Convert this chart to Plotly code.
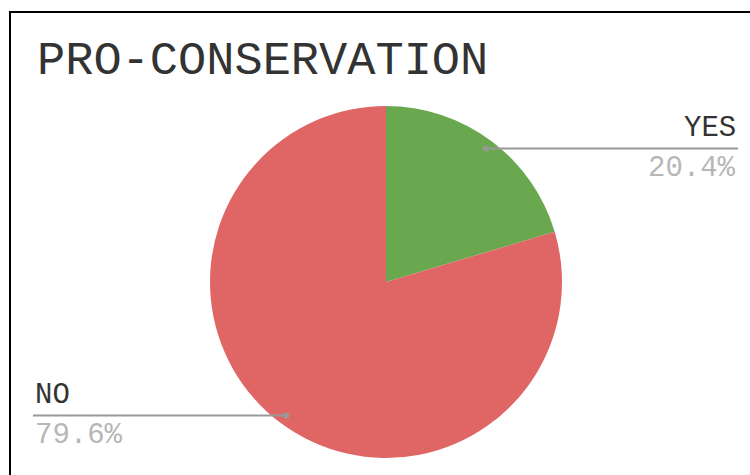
import numpy as np
import plotly.graph_objects as go

# Survey answers and their shares (%)
labels = ["YES", "NO"]
shares = [20.4, 79.6]
colors = ["#6aa84f", "#e06666"]
title_text = "PRO-CONSERVATION"

W, H = 750, 475
FONT = "Liberation Mono, Courier New, monospace"

# Pie geometry in pixels (from the top-left of the page)
CX, CY, R = 386, 282, 176


def px(x):
    return x / W


def py(y):
    return 1 - y / H


fig = go.Figure(
    go.Pie(
        labels=labels,
        values=shares,
        sort=False,
        direction="clockwise",
        rotation=0,
        marker=dict(colors=colors, line=dict(width=0)),
        textinfo="none",
        hoverinfo="label+percent",
        showlegend=False,
        domain=dict(x=[px(CX - R), px(CX + R)], y=[py(CY + R), py(CY - R)]),
    )
)

shapes = [
    # outer frame
    dict(type="rect", xref="paper", yref="paper",
         x0=px(10), y0=py(490), x1=px(765), y1=py(12),
         line=dict(color="#000000", width=2), fillcolor="rgba(0,0,0,0)"),
]
annotations = [
    dict(text=title_text, xref="paper", yref="paper", x=px(35), y=py(61),
         xanchor="left", yanchor="middle", showarrow=False,
         font=dict(family=FONT, size=47, color="#333333")),
]

# Leader lines: from a point inside each slice (at its mid-angle) to the side
total = sum(shares)
start = 0.0
for lab, val in zip(labels, shares):
    frac = val / total
    mid = (start + frac / 2) * 2 * np.pi
    start += frac
    dx = np.sin(mid) * R * 0.947
    dy = -np.cos(mid) * R * 0.947
    x_dot, y_dot = CX + dx, CY + dy
    right = dx >= 0
    x_end = 738 if right else 33
    shapes.append(dict(type="line", xref="paper", yref="paper",
                       x0=px(x_dot), y0=py(y_dot), x1=px(x_end), y1=py(y_dot),
                       line=dict(color="#999999", width=2)))
    shapes.append(dict(type="circle", xref="paper", yref="paper",
                       x0=px(x_dot - 3), y0=py(y_dot + 3), x1=px(x_dot + 3), y1=py(y_dot - 3),
                       line=dict(width=0), fillcolor="#999999"))
    anchor = "right" if right else "left"
    annotations.append(dict(text=lab, xref="paper", yref="paper",
                            x=px(x_end), y=py(y_dot - 20), xanchor=anchor, yanchor="middle",
                            showarrow=False, font=dict(family=FONT, size=29, color="#333333")))
    annotations.append(dict(text=f"{val:.1f}%", xref="paper", yref="paper",
                            x=px(x_end), y=py(y_dot + 20), xanchor=anchor, yanchor="middle",
                            showarrow=False, font=dict(family=FONT, size=29, color="#b7b7b7")))

fig.update_layout(
    width=W, height=H,
    margin=dict(l=0, r=0, t=0, b=0),
    paper_bgcolor="white",
    plot_bgcolor="white",
    shapes=shapes,
    annotations=annotations,
)

fig.write_html("out.html")
